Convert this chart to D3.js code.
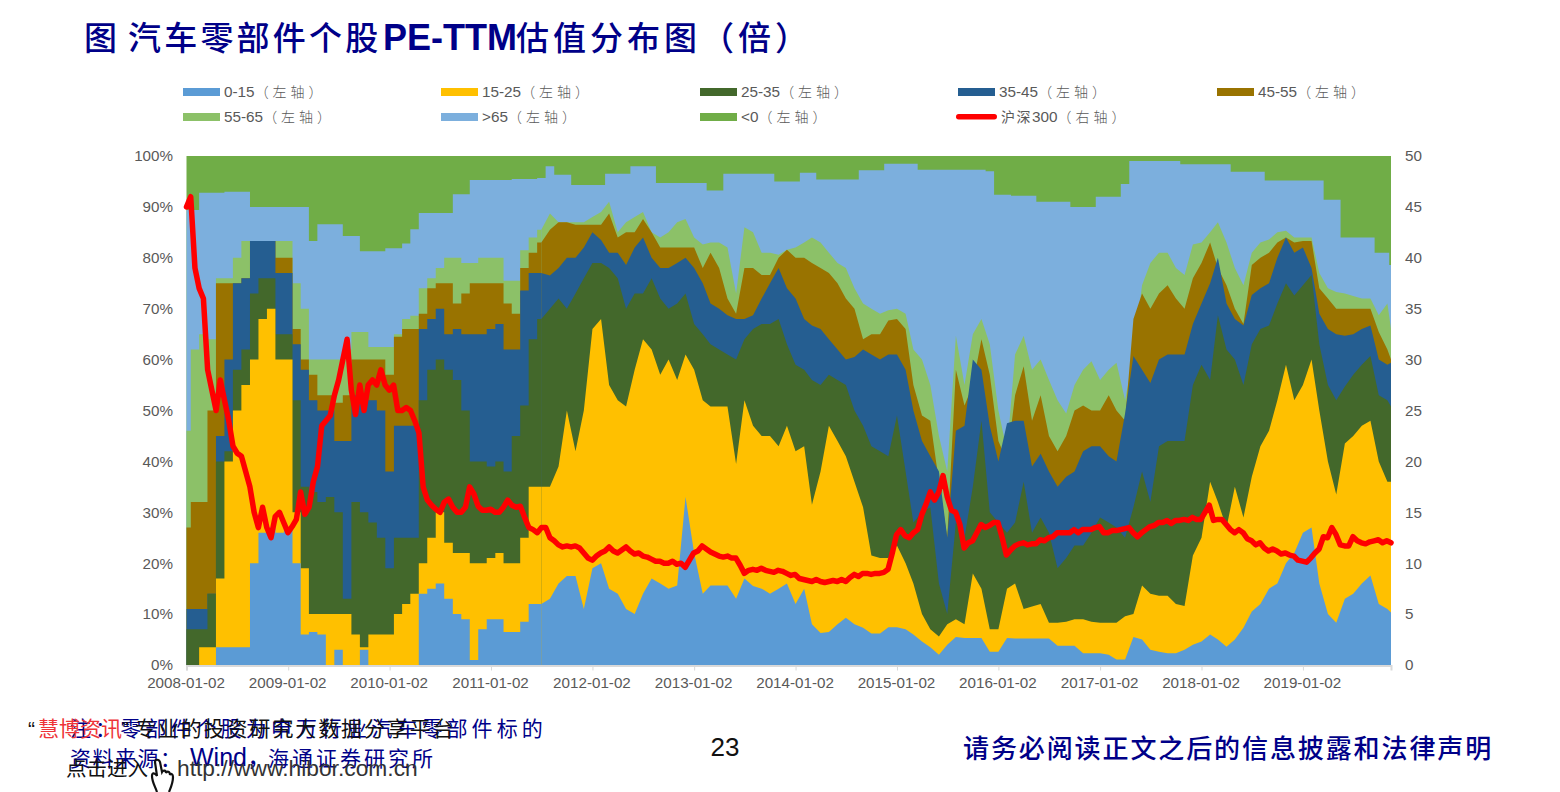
<!DOCTYPE html>
<html lang="zh">
<head>
<meta charset="utf-8">
<script src="https://cdn.jsdelivr.net/npm/d3@7"></script>
<style>
  html, body { margin: 0; padding: 0; background: #fff; }
  svg { display: block; }
  text { font-family: "Liberation Sans", "Noto Sans CJK SC", sans-serif; }
</style>
</head>
<body>
<svg id="chart" width="1560" height="792"></svg>
<script>
// Cumulative upper edge (% of stocks) of each PE band, sampled monthly from 2008-01
const top0to15 = [0,0,0,0,3.5,3.5,3.5,3.5,20,26,27,26, 27,20,6,6.5,6,0,3,0,0,3,0,0, 0,0,0,0,14,15,16,13,10,9,1,7, 9,9,6.5,6.5,8.5,12,12,13,16,17.5,17.5,11,
  19,20,15,14,11,10,14,17,16,15,15.6,33, 22,14,15.6,15.6,15.6,13,17,15.5,15,14,15,16, 12,15,8,6.3,6.5,8,9.3,8,7.3,6.2,6.2,7.4, 7.4,7,6,4.6,3.5,2,4,5.5,5.3,5.3,5.3,2.6,
  2.6,5.3,5.2,5.2,5.2,5.2,5.2,3.8,3.8,3.8,2.3,2.3, 2.3,2,1.1,1.1,5.5,5,3,2.6,2.3,2.3,3,4, 4.6,6,5,3.6,5,7.3,10.5,12,15,16,20,22, 26,27,16,10,8.3,13,14,16,17.6,12,11,10.3];
const top15to25 = [0,0,3.5,3.5,17,40,50,55,60,68,70,60, 60,30,19,10,10,10,10,10,6,3.5,6,6, 6,10,12,14,20,25,30,24,22,22,20,20, 21,22,20,20,25,35,35,35,39,50,42,50,
  66,68,55,52,50.8,58,64,62,57,60,56,61, 58,52,50.8,50.8,50.8,39.5,52,47,45,45,43,47, 42,43,31.5,38,47,44,41,36,31,21.5,21,21, 23.5,20,16,10,7,5.6,8,9,8,18,15,7,
  7,15,16,11,11.5,12,8.3,8.3,8.5,9,9,8.5, 8.3,8.3,8.3,9.6,10,15.6,14,13.6,13.6,12,11.6,21.5, 25,36,32,27,35,29,37,43,46,52,59,52, 55,60,50,40,33.5,43.5,45,47,48,40,36,36];
const top25to35 = [7,7,7,14,40,42,58,62,73,76,76,65, 65,52,35,34,32,33,30,13,32,30,28,25, 19,25,25,25,52,58,60,58,56,50,40,40, 39,40,38,45,51,64,68,70,72,70,73,76,
  79,79,78,76,70,73,73,76,72,70,71,73, 67,65,63,62,61,60,64,66,67,67,68,63, 59,58,56,55,57,56,55,50,47,43,42,41, 49,38,28,30,31,16,10,28,25,35,48,30,
  28,26,28,36,26,29,26,19,21,23.5,23.5,26, 29,28,27,25,31,38,32,43,44,44,44,55, 59,56,68.7,62,60,55,63,66,66.7,71,75,72.6, 74.6,76.6,63,55,52,54.7,57,59,60.7,53,52,50.8];
const top35to45 = [11,11,11,14,45,60,75,76,83.3,83.3,83.3,77, 77,63,58,52,50,50,44,44,53,53,52,50, 38,47,47,47,66,68,70,65,66,65,65,65, 66,67,62,62,73.6,77,77,76.5,78,80,80,82,
  85,83.5,81,81,78.6,82,84,80,78,78,79,80, 78,75,71,70,68.7,68,68,68.7,72,75,78,74, 72,68,66.7,66,64,62,60,60.5,62,61,60,61, 61,58,50,44,41,38,25,46,47,60,58,47,
  40,47.5,48,48,39,41.5,38,35,37,38,42,43, 43,41,40,49.4,60.7,58,55.4,60,61,61,61,67, 71,75,80,71,68,66.7,72.7,74,75,80,84,81, 82,78,69,66,65,64.7,65,66,66.7,60,59,59.4];
const top45to55 = [27,32,32,50,75,75,75,76,83.3,83.3,83.3,80, 80,66,60,57,53,53,51.5,53,60,60,60,60, 57,64.5,66,66,69,74,75,75,71,73,75,75, 75,75,71,69,78,81,83,85.5,87,87,86.5,86.5,
  86.5,86.5,88.7,84,85,85,87.6,85,82,82,82,82, 82,78,81,78,72,69,78,78,76.6,76.6,80,81.6, 80,80,79,78,77,75,72,70,64,65,65,67.7, 68,66,55,49,48,36,25,58,51,55,64,57,
  44,40,53,58.7,48,53,45,42,45,50,51,50, 50,53,50,48,68,73,70,73,74.6,72,70,76, 79,83,78,74.6,70,67,78.6,80,81,83,84,83, 83.3,83.3,74,72,70,70,70,70,70,65.4,62,60];
const top55to65 = [46,62,65,64,76,76,80,83.3,83.3,83.3,83.3,83.3, 83.3,75,70,60,60,60,60,62,65.4,65.4,62.5,62.5, 62.5,65,68,68.6,74,76,78,80,80,79,79,80, 80,80,75.5,75.5,81.5,84,85.5,88.7,87,87,87,87,
  88,89,91,85,87,88,89,85,84,85,87,87.6, 84,82.6,83,83,82,73,86,85,81,81,80.6,81.6, 82,83,84,83,81,79,78,74,71,70,69,69.7, 70,69,62,60,55,45,38,64.7,55,65,68,63,
  50,42,61,64.7,58,60,56,52,49.4,55,58,59.7, 56,58,59.4,52,61,74.6,79,81,81,78,76.6,82.6, 83,85,87,83,78,74.6,81,83,83.6,85,85.3,84, 84,84,77,74,73.3,73,72.5,72,72,68.7,71,66];
const topAbove65 = [89.4,89.4,92.8,92.8,92.8,93,93,93,90,90,90,90, 90,90,90,83.3,86.6,86.6,86.6,84.3,84.3,81.3,81.3,81.3, 81.9,81.9,82.8,85.6,88.8,88.8,88.8,88.8,92.5,92.5,95.3,95.3, 95.3,95.3,95.3,95.5,95.5,95.5,95.7,98,96.3,96.3,94.3,94.3,
  94.3,94.3,96.5,96.5,96.5,98,98,98,94.7,94.7,94.7,94.7, 94.7,94.7,93.2,93.2,96.5,96.5,96.5,96.5,96.5,96.5,95,95, 95,96.7,96.7,95.4,95.4,95.4,95.4,95.4,97.2,97.2,97.2,98.5, 98.5,98.5,98.5,97.3,97.3,97.3,97.3,97.3,97.3,97.3,97.3,97,
  92.4,92.4,92.2,92.2,92.2,91,91,91,91,90,90,90, 92,92,92,94.5,99,99,99,99,99,99,98.4,98.4, 98.4,98.4,98.4,98.4,96.9,96.9,96.9,96.9,95.2,95.2,95.2,95.2, 95.2,95.2,95.2,91.4,91.4,84,84,84,84,81,81,78.6];
const topNegative = top0to15.map(() => 100);

// CSI 300 PE, sampled twice a month
const hs300 = [45,46,39,37,36,29,27,25,28,26,24,21.5,20.8,20.5,19,17.5,15,13.5,15.5,13.5,12.5,14.6,15,14,13,13.6,14.3,17,14.8,15.5,18,19.5,23.5,24,24.5,26.5,28,30,32,27,24.6,27.5,25,27.5,28,27.5,29,27.5,
  27,27.5,25,25,25.3,25,24,22.8,17.5,16.2,15.7,15.3,15,16,16.3,15.5,15,15,15.5,17.5,16.8,15.6,15.2,15.2,15.3,15,15,15.5,16.2,15.7,15.5,15.6,14.5,13.5,13.3,13,13.5,13.5,12.5,12.2,11.8,11.6,11.7,11.6,11.7,11.5,11,10.5,
  10.3,10.7,11,11.2,11.6,11.2,11,11.3,11.6,11.2,10.9,11,10.7,10.6,10.4,10.2,10.2,10,10,10.2,9.9,10,9.6,10.3,11,11.2,11.7,11.4,11.1,10.9,10.7,10.6,10.7,10.5,10.5,9.8,9,9.3,9.4,9.3,9.5,9.3,9.2,9.1,9.3,9.2,9,8.8,8.9,
  8.5,8.4,8.3,8.2,8.4,8.2,8.1,8.2,8.3,8.2,8.4,8.2,8.6,8.9,8.7,9,9,8.9,9,9,9.1,9.4,11,12.8,13.3,12.7,12.5,13,13.3,14.8,15.8,17,16.2,17,18.6,16.5,15.2,15,13.8,11.5,12,12.2,13,13.8,13.5,13.7,14,14,
  12.5,10.8,11.3,11.7,11.9,12,11.8,11.9,11.9,12.3,12.2,12.5,12.6,13,13,13,13,13.3,13,13.3,13.3,13.3,13.5,13.6,13,13,13.2,13.2,13.3,13.4,13.5,13,12.6,13,13.3,13.6,13.7,14,14,14.2,13.9,14.2,14.2,14.3,14.2,14.5,14.3,14.3,
  15,15.7,14.2,14.3,14.3,13.8,13.3,13,13.3,13,12.4,12.2,11.8,12,11.5,11.2,11.4,11.2,10.9,11,10.8,10.7,10.3,10.2,10.1,10.5,11,11.4,12.6,12.5,13.5,12.8,11.8,11.7,11.7,12.6,12.2,12,11.9,12.1,12.2,12.3,12,12.2,12];

const bandNames = ["0-15", "15-25", "25-35", "35-45", "45-55", "55-65", ">65", "<0"];
const bandColors = ["#5B9BD5", "#FFC000", "#43682B", "#255E91", "#997300", "#8CC168", "#7CAFDD", "#70AD47"];
const bandTops = [top0to15, top15to25, top25to35, top35to45, top45to55, top55to65, topAbove65, topNegative];
const leftTicks = [0, 10, 20, 30, 40, 50, 60, 70, 80, 90, 100];
const rightTicks = [0, 5, 10, 15, 20, 25, 30, 35, 40, 45, 50];
const yearTicks = ["2008-01-02","2009-01-02","2010-01-02","2011-01-02","2012-01-02","2013-01-02","2014-01-02","2015-01-02","2016-01-02","2017-01-02","2018-01-02","2019-01-02"];

const disclaimer = "请务必阅读正文之后的信息披露和法律声明";
const noteLine = "注：零部件个股为申万行业汽车零部件标的";

const parseDay = d3.timeParse("%Y-%m-%d");
const start = parseDay("2008-01-02"), end = parseDay("2019-11-15");
const svg = d3.select("#chart");
const NAVY = "#000088", GREY = "#595959";

const x = d3.scaleTime().domain([start, end]).range([186.5, 1391]).clamp(true);
const yLeft = d3.scaleLinear().domain([0, 100]).range([665, 156]);
const yRight = d3.scaleLinear().domain([0, 50]).range([665, 156]);

const months = top0to15.map((_, i) => d3.timeMonth.offset(start, i));
const halfMonths = hs300.map((_, j) => new Date(+start + (end - start) * j / (hs300.length - 1)));

// Bands are painted back to front, each one filled down to the baseline.
// Early years and the >65 edge move in blocks, later edges are jagged.
const blockyUntil = 42;
const bandArea = curve => d3.area().curve(curve).x(d => x(months[d.i])).y0(yLeft(0)).y1(d => yLeft(d.v));
d3.range(bandTops.length - 1, -1, -1).forEach(k => {
  const pts = bandTops[k].map((v, i) => ({ v, i }));
  if (k >= 6) {
    svg.append("path").attr("d", bandArea(d3.curveStep)(pts)).attr("fill", bandColors[k]);
  } else {
    svg.append("path").attr("d", bandArea(d3.curveStep)(pts.slice(0, blockyUntil + 1))).attr("fill", bandColors[k]);
    svg.append("path").attr("d", bandArea(d3.curveLinear)(pts.slice(blockyUntil))).attr("fill", bandColors[k]);
  }
});

svg.append("path")
  .attr("d", d3.line().curve(d3.curveLinear).x((_, j) => x(halfMonths[j])).y(d => yRight(d))(hs300))
  .attr("fill", "none").attr("stroke", "#FF0000").attr("stroke-width", 5.5).attr("stroke-linejoin", "round").attr("stroke-linecap", "round");

// Axes
const styleAxis = g => {
  g.select(".domain").remove();
  g.selectAll("text").attr("fill", GREY).style("font-size", "15.2px");
};
svg.append("g").attr("transform", "translate(178,0)")
  .call(d3.axisLeft(yLeft).tickValues(leftTicks).tickFormat(d => d + "%").tickSize(0).tickPadding(5)).call(styleAxis);
svg.append("g").attr("transform", "translate(1400,0)")
  .call(d3.axisRight(yRight).tickValues(rightTicks).tickSize(0).tickPadding(5)).call(styleAxis);
const xAxis = svg.append("g").attr("transform", "translate(0,665.5)")
  .call(d3.axisBottom(x).tickValues(yearTicks.map(parseDay)).tickFormat(d3.timeFormat("%Y-%m-%d")).tickSize(5).tickPadding(7));
xAxis.select(".domain").attr("stroke", "#D9D9D9").attr("stroke-width", 2);
xAxis.selectAll("line").attr("stroke", "#D9D9D9");
xAxis.selectAll("text").attr("fill", GREY).style("font-size", "15.2px").attr("dx", "-1");

// Legend
const legendColumns = [183, 441, 700, 958, 1217];
const legendItems = bandNames.map((n, i) => ({ name: n, color: bandColors[i], note: "左轴" }));
legendItems.push({ cjk: "沪深", name: "300", color: "#FF0000", note: "右轴", line: true });
legendItems.forEach((d, i) => {
  const lx = legendColumns[i % 5], ly = i < 5 ? 92 : 117;
  const g = svg.append("g");
  if (d.line) {
    g.append("rect").attr("x", lx - 2).attr("y", ly - 3).attr("width", 41).attr("height", 5.5).attr("rx", 2.7).attr("fill", d.color);
  } else {
    g.append("rect").attr("x", lx).attr("y", ly - 4).attr("width", 37).attr("height", 8).attr("fill", d.color);
  }
  const t = g.append("text").attr("x", lx + (d.line ? 43 : 41)).attr("y", ly + 5).attr("fill", GREY).style("font-size", "15.3px");
  if (d.cjk) t.append("tspan").text(d.cjk).style("font-size", "14px").style("letter-spacing", "1.5px");
  t.append("tspan").text(d.name);
  t.append("tspan").text("（" + d.note + "）").style("font-size", "14px").style("letter-spacing", "4px").attr("font-weight", 300);
});

// Title
const title = svg.append("text").attr("y", 50).attr("fill", NAVY).attr("font-weight", 500).style("font-size", "33px");
title.append("tspan").attr("x", 84).text("图");
title.append("tspan").attr("x", 128).text("汽车零部件个股").style("letter-spacing", "3.2px");
title.append("tspan").attr("x", 383).text("PE-TTM").attr("font-weight", 700).style("font-size", "36px");
title.append("tspan").attr("x", 516).text("估值分布图（倍）").style("letter-spacing", "4px");

// Footer
svg.append("text").attr("x", 70).attr("y", 736).attr("fill", NAVY).style("font-size", "21px").style("letter-spacing", "4.1px").text(noteLine);
const source = svg.append("text").attr("y", 766).attr("fill", NAVY).style("font-size", "21px");
source.append("tspan").attr("x", 70).text("资料来源：").style("letter-spacing", "1.5px");
source.append("tspan").attr("x", 190).text("Wind，").style("font-size", "25px");
source.append("tspan").attr("x", 268).text("海通证券研究所").style("letter-spacing", "3px");

const promo = svg.append("text").attr("y", 736).attr("fill", "#111").style("font-size", "21px");
promo.append("tspan").attr("x", 28).text("“");
promo.append("tspan").attr("x", 38).text("慧博资讯").attr("fill", "#EE3338");
promo.append("tspan").attr("x", 122).text("”");
promo.append("tspan").attr("x", 135).text("专业的投资研究大数据分享平台").style("letter-spacing", "1.9px");

svg.append("text").attr("x", 66).attr("y", 776).attr("fill", "#111").style("font-size", "20.5px").text("点击进入");
svg.append("path")
  .attr("d", "M157 792 C155 786 152 782 152 776 C152 772 155 773 157 776 L155 762 C155 759 159 759 160 762 L162 772 C163 770 166 770 166 773 C167 771 170 771 170 775 C171 773 173 774 173 777 C173 783 171 787 169 792")
  .attr("fill", "#fff").attr("stroke", "#111").attr("stroke-width", 2.2);
svg.append("text").attr("x", 177).attr("y", 776).attr("fill", "#333").style("font-size", "22.8px").text("http://www.hibor.com.cn");

svg.append("text").attr("x", 725).attr("y", 756).attr("text-anchor", "middle").attr("fill", "#111").style("font-size", "26px").text("23");
svg.append("text").attr("x", 963).attr("y", 758).attr("fill", NAVY).style("font-size", "26px").attr("font-weight", 500).style("letter-spacing", "1.9px").text(disclaimer);
</script>
</body>
</html>
